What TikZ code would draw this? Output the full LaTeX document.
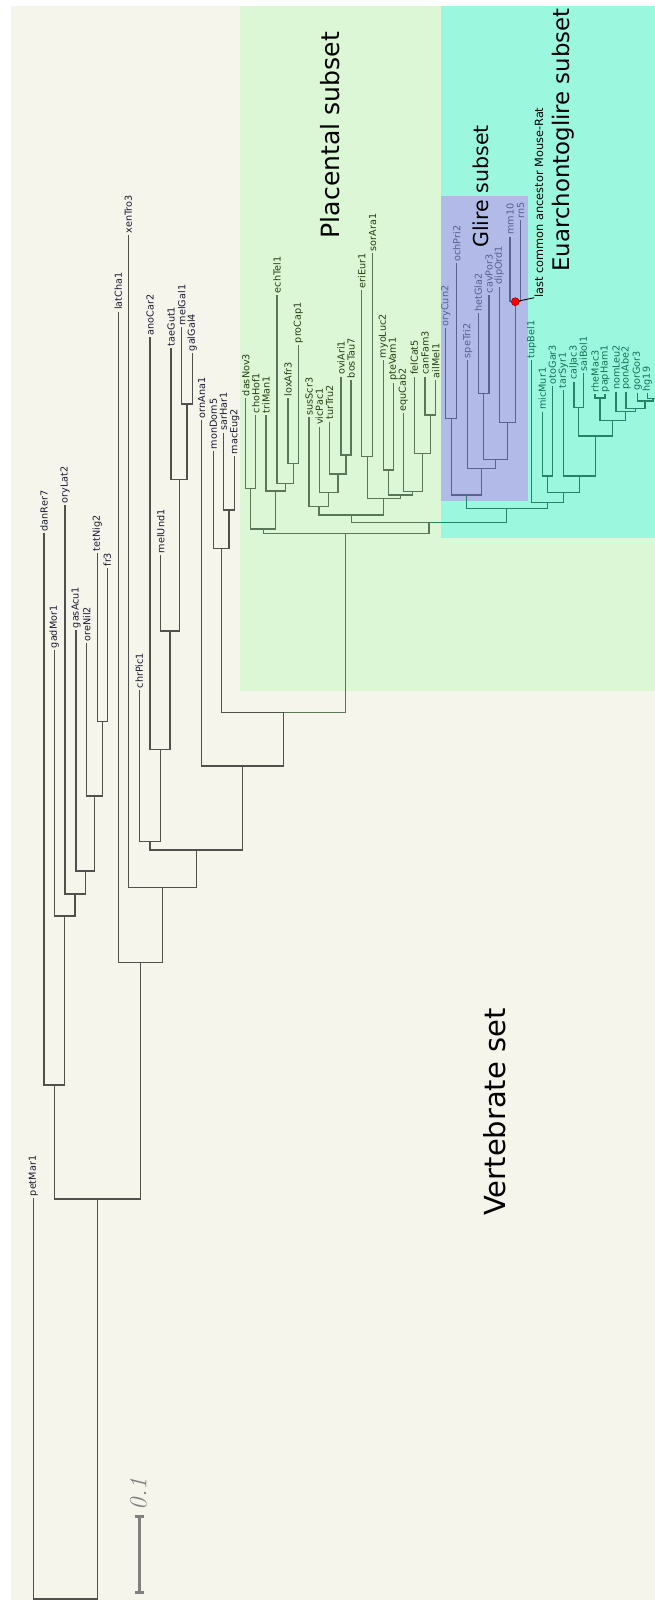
\documentclass[tikz,border=0pt]{standalone}
\usepackage{fontspec}
\newfontfamily\treefont{DejaVu Sans}
\usetikzlibrary{calc}

\definecolor{vertbg}{RGB}{245,245,236}
\definecolor{placbg}{RGB}{220,247,213}
\definecolor{euarbg}{RGB}{155,247,222}
\definecolor{glirbg}{RGB}{178,186,232}
\definecolor{vertln}{RGB}{80,80,76}
\definecolor{placln}{RGB}{88,118,88}
\definecolor{glirln}{RGB}{90,98,145}
\definecolor{euarln}{RGB}{38,132,102}
\definecolor{vertlb}{RGB}{25,25,45}
\definecolor{placlb}{RGB}{40,60,15}
\definecolor{glirlb}{RGB}{85,95,150}
\definecolor{euarlb}{RGB}{22,112,82}

\tikzset{
  leaf/.style={rotate=90, anchor=west, inner xsep=0.9pt, inner ysep=0pt,
    font=\treefont\fontsize{5.5}{6}\selectfont},
  vlab/.style={leaf, text=vertlb},
  plab/.style={leaf, text=placlb},
  glab/.style={leaf, text=glirlb},
  elab/.style={leaf, text=euarlb},
  branch/.style={line width=0.6pt},
  vline/.style={branch, draw=vertln},
  pline/.style={branch, draw=placln},
  gline/.style={branch, draw=glirln},
  eline/.style={branch, draw=euarln},
  subset/.style={rotate=90, inner sep=0pt, font=\treefont\fontsize{#1}{#1}\selectfont}
}

\begin{document}
\begin{tikzpicture}[x=0.02cm, y=-0.02cm]

  \useasboundingbox (0,0) rectangle (655,1600);

  % Shaded sets
  \fill[vertbg] (11,6) rectangle (655,1600);
  \fill[placbg] (240,6) rectangle (655,690.7);
  \fill[euarbg] (441,6) rectangle (655,538.3);
  \fill[glirbg] (441,196) rectangle (528,501);

  % Set titles
  \node[subset=16.5] (vertset) at (495,1112) {Vertebrate set};
  \node[subset=14.3] (placset) at (330,135) {Placental subset};
  \node[subset=13] (euarset) at (563,140) {Euarchontoglire subset};
  \node[subset=11.7] (glirset) at (481,186.5) {Glire subset};

  % Leaves
  \foreach \n/\x/\y in {petMar1/33.3/1198, danRer7/44/533.3, gadMor1/54.3/650,
      oryLat2/65/505, gasAcu1/76/630, oreNil2/86.7/643.3, tetNig2/97.3/553.3,
      fr3/107.3/568.3, latCha1/118.3/311.7, xenTro3/128.3/235, chrPic1/139.3/690,
      anoCar2/150/337, melUnd1/160.7/555, taeGut1/171/348, melGal1/181.7/327,
      galGal4/192.3/353, ornAna1/201.7/420, monDom5/213.3/451, sarHar1/223.3/432.7,
      macEug2/234.7/456}
    \node[vlab] (\n) at (\x,\y) {\n};
  \foreach \n/\x/\y in {dasNov3/245.7/398, choHof1/255.7/415, triMan1/266/415,
      echTel1/277/295, loxAfr3/288/398, proCap1/298.3/345, susScr3/309/417.3,
      vicPac1/319.3/426.7, turTru2/329.7/421.7, oviAri1/341/376.7, bosTau7/351/380,
      eriEur1/361.7/290, sorAra1/372.7/253.3, myoLuc2/383.3/360, pteVam1/393.3/382.7,
      equCab2/403.3/413.3, felCat5/414.3/376.7, canFam3/425/376.7, ailMel1/435.7/380}
    \node[plab] (\n) at (\x,\y) {\n};
  \foreach \n/\x/\y in {oryCun2/445.7/328.3, ochPri2/456.7/263.3, speTri2/467.7/360,
      hetGla2/478.3/313.3, cavPor3/489/295, dipOrd1/499.3/286.7, mm10/510/236.7,
      rn5/520.7/220}
    \node[glab] (\n) at (\x,\y) {\n};
  \foreach \n/\x/\y in {tupBel1/531.7/360, micMur1/542.3/411.7, otoGar3/552.3/386,
      tarSyr1/563.3/390, calJac3/574/381.7, saiBol1/583.3/373.3, rheMac3/595/394,
      papHam1/605/394, nomLeu2/616/391.7, ponAbe2/626/391.7, gorGor3/637.3/392.7,
      hg19/647.3/393.3}
    \node[elab] (\n) at (\x,\y) {\n};

  % Inner nodes
  \foreach \n/\x/\y in {root/65.5/1599, gna/97.2/1199, tel/54.3/1085, tel1/64.7/916,
      tel2/75/894, tel3/85.2/871, tel4/94.2/796, tet/102.3/721.7, sarc/140.3/962.7,
      tetra/162.3/887.7, amn/196.2/850, saur/150/841.7, saur2/160.3/749.3,
      birds/170/631, bird2/179.2/479.3, gall/187/404, mam/242.6/766, ther/283.8/712.3,
      mars/221.3/548.3, mars2/229/510,
      plac/345.9/533.3, afx/263.2/529, xen/250.7/488.3, afr/275.5/491, afr2/285.2/483.3,
      afr3/293.2/463.3, bor/429/522.7, lau/351.4/515, cet/319/506.7, cet2/328.7/492.7,
      cet3/338/474, bov/346/455, lau2/383.8/498.3, eul/367.2/456.7, sct/400.5/495,
      chi/388.3/470, fer/412.8/491.7, car/422.3/453.3, can/430.3/415,
      euar/506.7/508.3, gli/466.4/495, lag/451.2/418.3, rod/481.6/468.3,
      rod2/495.5/459.3, hys/483.7/393.3, rod3/507.3/422.7, mur/515.3/301.7,
      eua/547.5/502.7, pri/563.5/492.7, str/547.3/476, hap/579.5/476, ant/595.7/436,
      pla/578.7/407.3, cat/612.8/420.7, cer/600/398, hom/625.7/411.7,
      hom2/635.5/408.3, hom3/645/401, hom4/653/398.5}
    \coordinate (\n) at (\x,\y);

  % Branches
  \foreach \c/\p in {petMar1.west/root, gna/root, tel/gna, sarc/gna,
      danRer7.west/tel, tel1/tel, gadMor1.west/tel1, tel2/tel1, oryLat2.west/tel2,
      tel3/tel2, gasAcu1.west/tel3, tel4/tel3, oreNil2.west/tel4, tet/tel4,
      tetNig2.west/tet, fr3.west/tet, latCha1.west/sarc, tetra/sarc,
      xenTro3.west/tetra, amn/tetra, saur/amn, mam/amn, chrPic1.west/saur,
      saur2/saur, anoCar2.west/saur2, birds/saur2, melUnd1.west/birds,
      bird2/birds, taeGut1.west/bird2, gall/bird2, melGal1.west/gall,
      galGal4.west/gall, ornAna1.west/mam, ther/mam, mars/ther,
      monDom5.west/mars, mars2/mars, sarHar1.west/mars2, macEug2.west/mars2}
    \draw[vline] (\c) |- (\p);
  \foreach \c/\p in {plac/ther, afx/plac, bor/plac, xen/afx, afr/afx,
      dasNov3.west/xen, choHof1.west/xen, triMan1.west/afr, afr2/afr,
      echTel1.west/afr2, afr3/afr2, loxAfr3.west/afr3, proCap1.west/afr3,
      lau/bor, cet/lau, lau2/lau, susScr3.west/cet, cet2/cet, vicPac1.west/cet2,
      cet3/cet2, turTru2.west/cet3, bov/cet3, oviAri1.west/bov, bosTau7.west/bov,
      eul/lau2, sct/lau2, eriEur1.west/eul, sorAra1.west/eul, chi/sct, fer/sct,
      myoLuc2.west/chi, pteVam1.west/chi, equCab2.west/fer, car/fer,
      felCat5.west/car, can/car, canFam3.west/can, ailMel1.west/can}
    \draw[pline] (\c) |- (\p);
  \foreach \c/\p in {lag/gli, rod/gli, oryCun2.west/lag, ochPri2.west/lag,
      speTri2.west/rod, rod2/rod, hys/rod2, rod3/rod2, hetGla2.west/hys,
      cavPor3.west/hys, dipOrd1.west/rod3, mur/rod3, mm10.west/mur, rn5.west/mur}
    \draw[gline] (\c) |- (\p);
  \foreach \c/\p in {euar/bor, gli/euar, eua/euar, tupBel1.west/eua, pri/eua,
      str/pri, hap/pri, micMur1.west/str, otoGar3.west/str, tarSyr1.west/hap,
      ant/hap, pla/ant, cat/ant, calJac3.west/pla, saiBol1.west/pla, cer/cat,
      hom/cat, rheMac3.west/cer, papHam1.west/cer, nomLeu2.west/hom, hom2/hom,
      ponAbe2.west/hom2, hom3/hom2, gorGor3.west/hom3, hom4/hom3, hg19.west/hom4}
    \draw[eline] (\c) |- (\p);
  \draw[eline] (hom4) -- (655,398.5);

  % Mouse-Rat ancestor
  \node[subset=6.45] (mrca) at (539,202.5) {last common ancestor Mouse-Rat};
  \draw[line width=0.5pt] (mur) -- (mrca.north west);
  \fill[red, draw=red!55!black, line width=0.3pt] (mur) circle [radius=4];

  % Scale bar
  \draw[gray, line width=1.8pt] (139.3,1516.7) -- (139.3,1592.3);
  \draw[gray, line width=1.5pt] (135,1516.7) -- (143.6,1516.7)
                                 (135,1592.3) -- (143.6,1592.3);
  \node[rotate=90, text=gray, font=\fontsize{14}{14}\selectfont\itshape] (scale) at (138.5,1494) {0.1};

\end{tikzpicture}
\end{document}
